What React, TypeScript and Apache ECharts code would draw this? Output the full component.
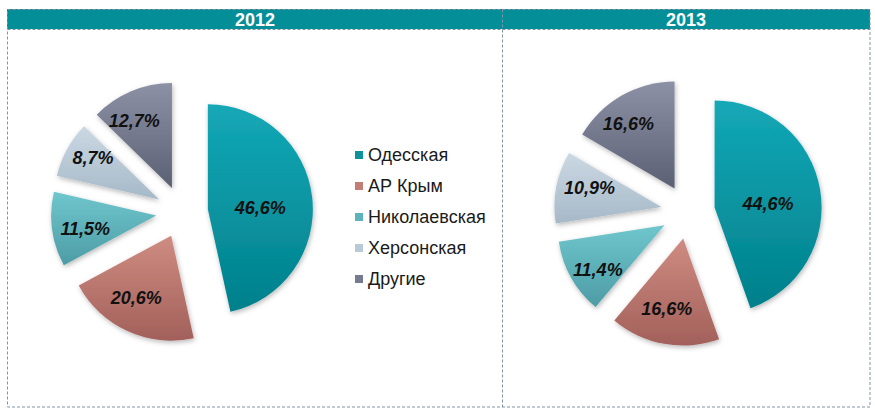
import React, { useEffect, useRef } from "react";
import * as echarts from "echarts";

const regions = ["Одесская", "АР Крым", "Николаевская", "Херсонская", "Другие"];
const values2012 = [46.6, 20.6, 11.5, 8.7, 12.7];
const values2013 = [44.6, 16.6, 11.4, 10.9, 16.6];
const years = ["2012", "2013"];

const gradTop = ["#14A8B7", "#CE8C82", "#70C6CD", "#CBD8E3", "#8D91A6"];
const gradBottom = ["#00808B", "#A2605A", "#4C9CA5", "#A6B9C8", "#5B6074"];
const legendColors = ["#0D929C", "#C47D74", "#5DB3BB", "#B9CAD7", "#767B90"];

const FONT = "'Liberation Sans', Arial, sans-serif";

function grad(i: number) {
  return new echarts.graphic.LinearGradient(0, 0, 0, 1, [
    { offset: 0, color: gradTop[i] },
    { offset: 1, color: gradBottom[i] },
  ]);
}

function pieData(values: number[]) {
  return values.map((v, i) => ({
    name: regions[i],
    value: v,
    selected: true,
    itemStyle: { color: grad(i) },
  }));
}

function labelData(values: number[]) {
  return values.map((v, i) => ({
    name: regions[i],
    value: v,
    selected: true,
  }));
}

const fmt = (p: any) => p.value.toFixed(1).replace(".", ",") + "%";

function makeSeries(values: number[], center: number[], r: number, offset: number) {
  const labelStyle = {
    show: true,
    position: "inside",
    formatter: fmt,
    fontFamily: FONT,
    fontSize: 18,
    fontWeight: "bold",
    fontStyle: "italic",
    color: "#111",
  };
  return [
    {
      type: "pie",
      center,
      radius: [0, r],
      startAngle: 90,
      selectedMode: "multiple",
      selectedOffset: offset,
      avoidLabelOverlap: false,
      label: { show: false },
      labelLine: { show: false },
      itemStyle: {
        shadowBlur: 5,
        shadowColor: "rgba(0,0,0,0.28)",
        shadowOffsetX: 1,
        shadowOffsetY: 2,
      },
      emphasis: { disabled: true },
      select: { itemStyle: { borderWidth: 0 } },
      data: pieData(values),
    },
    {
      type: "pie",
      center,
      radius: [Math.round(r * 0.4), r],
      startAngle: 90,
      selectedMode: "multiple",
      selectedOffset: offset,
      avoidLabelOverlap: false,
      silent: true,
      itemStyle: { color: "rgba(0,0,0,0)" },
      label: labelStyle,
      labelLine: { show: false },
      emphasis: { disabled: true },
      select: { label: labelStyle, itemStyle: { color: "rgba(0,0,0,0)", borderWidth: 0 } },
      data: labelData(values),
      z: 5,
    },
  ];
}

export default function App() {
  const ref = useRef<HTMLDivElement>(null);
  useEffect(() => {
    if (!ref.current) return;
    const chart = echarts.init(ref.current, null, { renderer: "svg" });
    const border = "#7F93A3";
    chart.setOption({
      animation: false,
      backgroundColor: "#fff",
      legend: {
        orient: "vertical",
        left: 350,
        top: 141,
        itemWidth: 8,
        itemHeight: 8,
        itemGap: 13,
        icon: "rect",
        selectedMode: false,
        textStyle: { fontFamily: FONT, fontSize: 18, lineHeight: 18, color: "#1a1a1a" },
        data: regions.map((n, i) => ({ name: n, itemStyle: { color: legendColors[i] } })),
      },
      graphic: [
        {
          type: "rect",
          shape: { x: 7, y: 9, width: 863, height: 20 },
          style: { fill: "#048F98" },
          z: 0,
        },
        {
          type: "rect",
          shape: { x: 7.5, y: 9.5, width: 862.5, height: 397.5 },
          style: { fill: "none", stroke: border, lineWidth: 1, lineDash: [3, 2] },
          z: 1,
        },
        {
          type: "line",
          shape: { x1: 7.5, y1: 29.5, x2: 870, y2: 29.5 },
          style: { stroke: border, lineWidth: 1, lineDash: [3, 2] },
          z: 1,
        },
        {
          type: "line",
          shape: { x1: 502.5, y1: 9.5, x2: 502.5, y2: 407 },
          style: { stroke: border, lineWidth: 1, lineDash: [3, 2] },
          z: 1,
        },
        {
          type: "text",
          x: 255,
          y: 19.5,
          style: {
            text: years[0],
            fill: "#fff",
            font: `bold 18px ${FONT}`,
            textAlign: "center",
            textVerticalAlign: "middle",
          },
          z: 2,
        },
        {
          type: "text",
          x: 686,
          y: 19.5,
          style: {
            text: years[1],
            fill: "#fff",
            font: `bold 18px ${FONT}`,
            textAlign: "center",
            textVerticalAlign: "middle",
          },
          z: 2,
        },
      ],
      series: [
        ...makeSeries(values2012, [182, 212], 105, 26),
        ...makeSeries(values2013, [688, 212], 107, 27),
      ],
    });
    return () => chart.dispose();
  }, []);
  return (
    <div
      ref={ref}
      style={{ position: "absolute", left: 0, top: 0, width: 875, height: 413 }}
    />
  );
}
